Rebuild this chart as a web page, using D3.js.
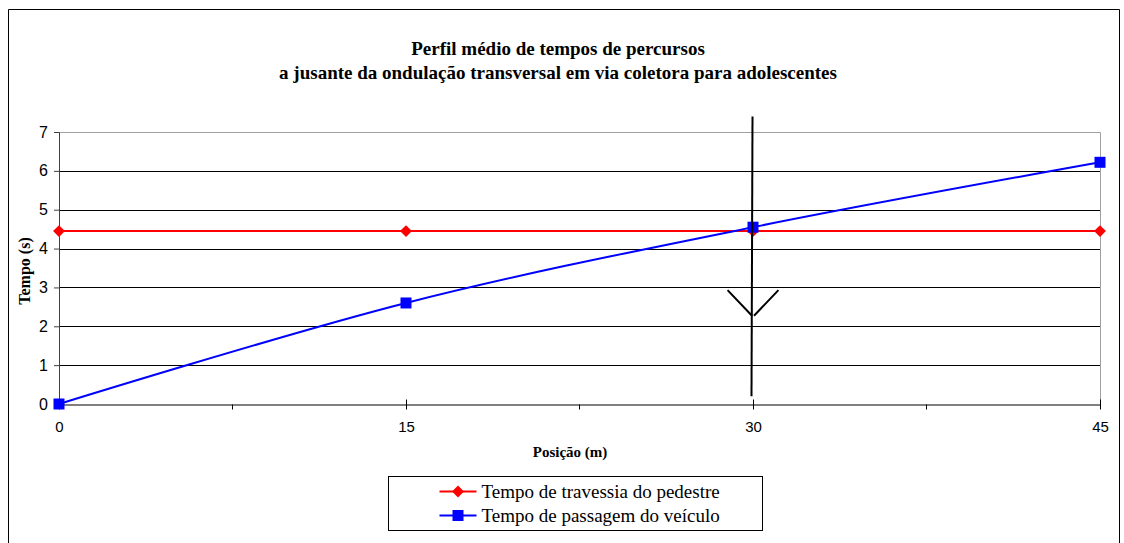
<!DOCTYPE html>
<html>
<head>
<meta charset="utf-8">
<script src="https://cdn.jsdelivr.net/npm/d3@7"></script>
<style>
  body { margin: 0; background: #fff; }
  svg text { fill: #000; }
</style>
</head>
<body>
<div id="wrapper"></div>
<script>
// data
const positions = [0, 15, 30, 45];
const travessia = [4.45, 4.45, 4.45, 4.45];
const passagem = [0, 2.6, 4.55, 6.22];
const yTicks = [0, 1, 2, 3, 4, 5, 6, 7];
const titleLines = ['Perfil médio de tempos de percursos',
  'a jusante da ondulação transversal em via coletora para adolescentes'];
const seriesNames = ['Tempo de travessia do pedestre', 'Tempo de passagem do veículo'];
// annotation arrow drawn over the chart (data units)
const arrowX = 30, arrowTop = 7.4, arrowBottom = 0.2, arrowTip = 2.27, arrowWing = 2.93, arrowHalf = 1.1;

const dims = { width: 1124, height: 543, margin: { top: 132, right: 24, bottom: 139, left: 59 } };
dims.boundW = dims.width - dims.margin.left - dims.margin.right;
dims.boundH = dims.height - dims.margin.top - dims.margin.bottom;

const svg = d3.select('#wrapper').append('svg')
  .attr('width', dims.width)
  .attr('height', dims.height);

// outer chart frame (bottom is outside the picture)
svg.append('path')
  .attr('d', 'M8.5,560 V9.5 H1119.5 V560')
  .attr('fill', 'none').attr('stroke', '#000').attr('stroke-width', 1);

const bounds = svg.append('g')
  .attr('transform', `translate(${dims.margin.left},${dims.margin.top})`);

const x = d3.scaleLinear().domain([0, 45]).range([0, dims.boundW]);
const y = d3.scaleLinear().domain([0, 7]).range([dims.boundH, 0]);

// gridlines
bounds.append('g').selectAll('line').data(yTicks.slice(1, -1)).join('line')
  .attr('x1', 0).attr('x2', dims.boundW)
  .attr('y1', d => Math.round(y(d)) + 0.5).attr('y2', d => Math.round(y(d)) + 0.5)
  .attr('stroke', '#000').attr('stroke-width', 1);

// plot area border top/right
bounds.append('path')
  .attr('d', `M0,${y(7) + 0.5} H${dims.boundW + 0.5} V${dims.boundH}`)
  .attr('fill', 'none').attr('stroke', '#a0a0a0');

// y axis
const yAxis = bounds.append('g')
  .call(d3.axisLeft(y).tickValues(yTicks).tickSize(5).tickPadding(6).tickFormat(d3.format('d')));
yAxis.select('.domain').attr('stroke', '#404040');
yAxis.selectAll('.tick line').attr('stroke', '#404040');
yAxis.selectAll('text').attr('font-family', 'Liberation Sans, Arial, sans-serif').attr('font-size', 16);

// x axis
const xAxis = bounds.append('g')
  .attr('transform', `translate(0,${dims.boundH + 0.5})`)
  .call(d3.axisBottom(x).tickValues(positions).tickSize(0).tickPadding(17));
xAxis.select('.domain').attr('stroke', '#000');
xAxis.selectAll('text').attr('font-family', 'Liberation Sans, Arial, sans-serif').attr('font-size', 15);
xAxis.selectAll('.tick').append('line').attr('y1', -5).attr('y2', 5).attr('stroke', '#000');
xAxis.append('g').selectAll('line').data([7.5, 22.5, 37.5]).join('line')
  .attr('x1', d => x(d)).attr('x2', d => x(d)).attr('y1', 0).attr('y2', 5).attr('stroke', '#000');

// series
const redLine = d3.line().x((d, i) => x(positions[i])).y(d => y(d));
const blueLine = d3.line().curve(d3.curveCardinal.tension(0)).x((d, i) => x(positions[i])).y(d => y(d));

bounds.append('path').attr('d', redLine(travessia))
  .attr('fill', 'none').attr('stroke', '#ff0000').attr('stroke-width', 2);
bounds.append('path').attr('d', blueLine(passagem))
  .attr('fill', 'none').attr('stroke', '#0000ff').attr('stroke-width', 2);

const diamond = d3.symbol().type(d3.symbolDiamond2).size(90);
bounds.append('g').selectAll('path').data(travessia).join('path')
  .attr('transform', (d, i) => `translate(${x(positions[i])},${y(d)})`)
  .attr('d', diamond).attr('fill', '#ff0000');
bounds.append('g').selectAll('rect').data(passagem).join('rect')
  .attr('x', (d, i) => x(positions[i]) - 5.5).attr('y', d => y(d) - 5.5)
  .attr('width', 11).attr('height', 11).attr('fill', '#0000ff');

// annotation arrow
bounds.append('line')
  .attr('x1', x(arrowX) - 0.5).attr('x2', x(arrowX) - 1.5)
  .attr('y1', y(arrowTop)).attr('y2', y(arrowBottom))
  .attr('stroke', '#000').attr('stroke-width', 2);
bounds.append('path')
  .attr('d', d3.line()([[x(arrowX - arrowHalf), y(arrowWing)], [x(arrowX) - 1, y(arrowTip)]]) +
    d3.line()([[x(arrowX) + 1, y(arrowTip)], [x(arrowX + arrowHalf), y(arrowWing)]]))
  .attr('fill', 'none').attr('stroke', '#000').attr('stroke-width', 2);

// titles
svg.append('g').selectAll('text').data(titleLines).join('text')
  .attr('x', 558).attr('y', (d, i) => 55 + i * 24)
  .attr('text-anchor', 'middle')
  .attr('font-family', 'Liberation Serif, Times New Roman, serif')
  .attr('font-weight', 'bold').attr('font-size', 19)
  .text(d => d);

svg.append('text')
  .attr('x', 570).attr('y', 457)
  .attr('text-anchor', 'middle')
  .attr('font-family', 'Liberation Serif, Times New Roman, serif')
  .attr('font-weight', 'bold').attr('font-size', 15)
  .text('Posição (m)');

svg.append('text')
  .attr('transform', `translate(30,271) rotate(-90)`)
  .attr('text-anchor', 'middle')
  .attr('font-family', 'Liberation Serif, Times New Roman, serif')
  .attr('font-weight', 'bold').attr('font-size', 16)
  .text('Tempo (s)');

// legend
const legend = svg.append('g').attr('transform', 'translate(388.5,476.5)');
legend.append('rect').attr('width', 374).attr('height', 54)
  .attr('fill', '#fff').attr('stroke', '#000');
const colors = ['#ff0000', '#0000ff'];
const items = legend.selectAll('g.item').data(seriesNames).join('g')
  .attr('class', 'item')
  .attr('transform', (d, i) => `translate(0,${15 + i * 24})`);
items.append('line').attr('x1', 51).attr('x2', 88)
  .attr('stroke', (d, i) => colors[i]).attr('stroke-width', 2);
items.each(function (d, i) {
  const g = d3.select(this);
  if (i === 0) g.append('path').attr('transform', 'translate(69.5,0)').attr('d', diamond).attr('fill', colors[0]);
  else g.append('rect').attr('x', 64).attr('y', -5.5).attr('width', 11).attr('height', 11).attr('fill', colors[1]);
});
items.append('text').attr('x', 93).attr('y', 6)
  .attr('font-family', 'Liberation Serif, Times New Roman, serif').attr('font-size', 19)
  .text(d => d);
</script>
</body>
</html>
